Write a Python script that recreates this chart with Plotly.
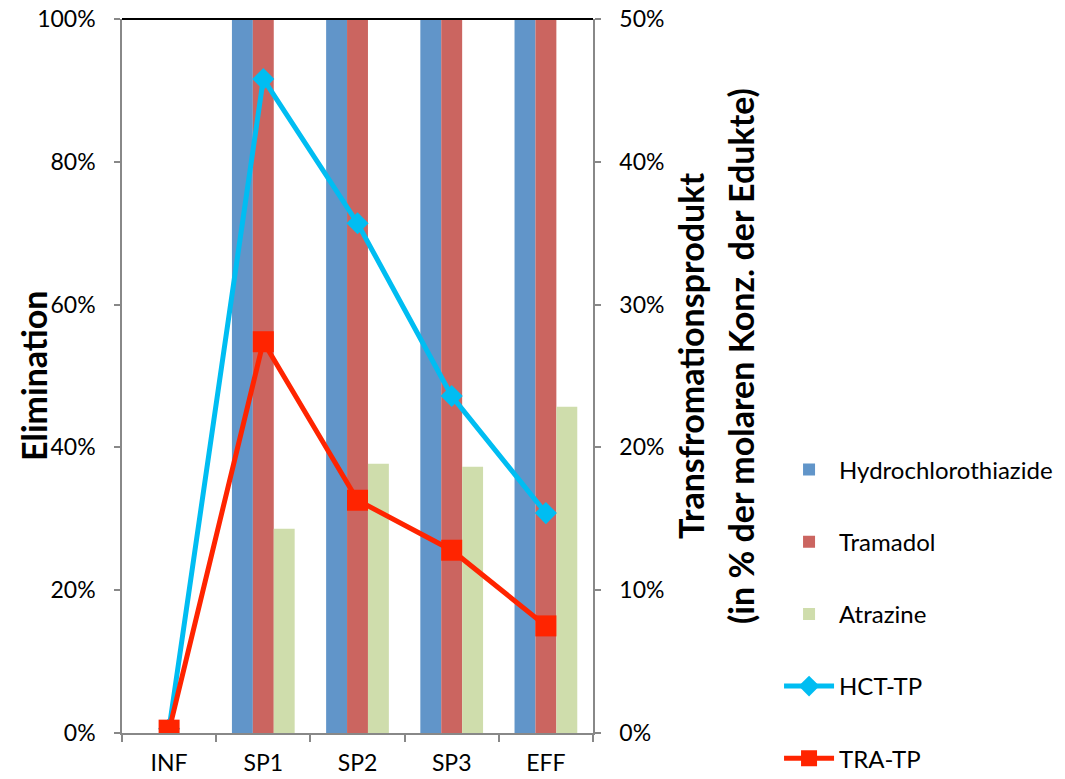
import plotly.graph_objects as go

categories = ["INF", "SP1", "SP2", "SP3", "EFF"]
hct_elim = [0, 1.0, 1.0, 1.0, 1.0]
tra_elim = [0, 1.0, 1.0, 1.0, 1.0]
atr_elim = [0, 0.286, 0.377, 0.373, 0.457]
hct_tp = [0.003, 0.458, 0.357, 0.236, 0.154]
tra_tp = [0.002, 0.274, 0.163, 0.128, 0.075]

FONT = "Lato"

fig = go.Figure()
fig.add_trace(go.Bar(x=categories, y=hct_elim, name="Hydrochlorothiazide",
                     marker=dict(color="#6195C9", line=dict(width=0)),
                     legendgroup="a", yaxis="y"))
fig.add_trace(go.Bar(x=categories, y=tra_elim, name="Tramadol",
                     marker=dict(color="#CB6560", line=dict(width=0)),
                     legendgroup="b", yaxis="y"))
fig.add_trace(go.Bar(x=categories, y=atr_elim, name="Atrazine",
                     marker=dict(color="#CFDDAC", line=dict(width=0)),
                     legendgroup="c", yaxis="y"))
fig.add_trace(go.Scatter(x=categories, y=hct_tp, name="HCT-TP", mode="lines+markers",
                         line=dict(color="#00BDF2", width=5),
                         marker=dict(symbol="diamond", size=17, color="#00BDF2"),
                         legendgroup="d", yaxis="y2"))
fig.add_trace(go.Scatter(x=categories, y=tra_tp, name="TRA-TP", mode="lines+markers",
                         line=dict(color="#FF2400", width=5),
                         marker=dict(symbol="square", size=21, color="#FF2400"),
                         legendgroup="e", yaxis="y2"))

axis_col = "#888888"
tick_font = dict(size=23, family=FONT, color="black")
fig.update_layout(
    width=1065, height=779,
    margin=dict(l=122, r=472, t=19, b=46, autoexpand=False),
    paper_bgcolor="white", plot_bgcolor="white",
    font=dict(family=FONT, size=23, color="black"),
    barmode="group", bargap=0.334, bargroupgap=0,
    xaxis=dict(type="category", showline=True, linecolor=axis_col, linewidth=1.5,
               ticks="outside", tickson="boundaries", ticklen=7, tickcolor=axis_col,
               tickwidth=1.5, showgrid=False, tickfont=tick_font,
               ticklabelstandoff=9, automargin=False),
    yaxis=dict(range=[0, 1], dtick=0.2, tickformat=".0%", showline=True,
               linecolor=axis_col, linewidth=1.5, ticks="outside", ticklen=6,
               tickcolor=axis_col, tickwidth=1.5, showgrid=False, zeroline=False,
               tickfont=tick_font, ticklabelstandoff=14, automargin=False),
    yaxis2=dict(range=[0, 0.5], dtick=0.1, tickformat=".0%", overlaying="y",
                side="right", showline=True, linecolor=axis_col, linewidth=1.5,
                ticks="outside", ticklen=6, tickcolor=axis_col, tickwidth=1.5,
                showgrid=False, zeroline=False, tickfont=tick_font,
                ticklabelstandoff=14, automargin=False),
    legend=dict(x=1.395, y=0.40, xanchor="left", yanchor="top",
                traceorder="grouped", tracegroupgap=38, itemwidth=50,
                font=dict(size=24, family=FONT), bgcolor="rgba(0,0,0,0)"),
    showlegend=True,
)

fig.add_shape(type="line", xref="paper", yref="paper", x0=0, x1=1, y0=1, y1=1,
              line=dict(color="black", width=2))

fig.add_annotation(text="<b>Elimination</b>", xref="paper", yref="paper",
                   x=(33 - 122) / 471, y=(733 - 376) / 714, xanchor="center",
                   yanchor="middle", textangle=-90, showarrow=False,
                   font=dict(size=34, family=FONT))
fig.add_annotation(text="<b>Transfromationsprodukt</b>", xref="paper", yref="paper",
                   x=(690 - 122) / 471, y=(733 - 356) / 714, xanchor="center",
                   yanchor="middle", textangle=-90, showarrow=False,
                   font=dict(size=34, family=FONT))
fig.add_annotation(text="<b>(in % der molaren Konz. der Edukte)</b>", xref="paper",
                   yref="paper", x=(740 - 122) / 471, y=(733 - 356) / 714,
                   xanchor="center", yanchor="middle", textangle=-90, showarrow=False,
                   font=dict(size=34, family=FONT))

fig.write_html("out.html")
